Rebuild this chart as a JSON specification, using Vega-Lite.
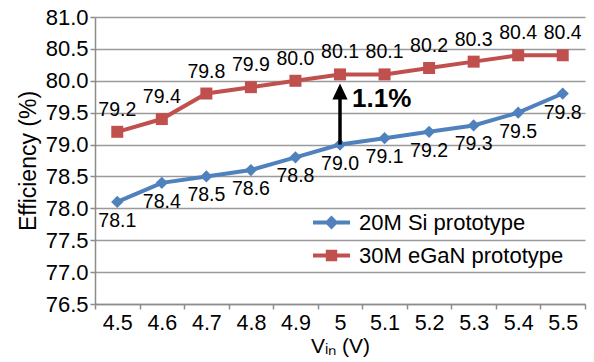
{
  "$schema": "https://vega.github.io/schema/vega-lite/v6.json",
  "width": 490,
  "height": 287,
  "autosize": "none",
  "padding": {"left": 95, "top": 17, "right": 9, "bottom": 58},
  "background": "white",
  "config": {
    "font": "Liberation Sans",
    "view": {"stroke": null},
    "axis": {"labelFont": "Liberation Sans", "titleFont": "Liberation Sans", "labelColor": "black", "titleColor": "black", "titleFontWeight": "normal"}
  },
  "datasets": {
    "eff": [
      {"vin": "4.5", "eff": 78.1, "series": "20M Si prototype"},
      {"vin": "4.6", "eff": 78.4, "series": "20M Si prototype"},
      {"vin": "4.7", "eff": 78.5, "series": "20M Si prototype"},
      {"vin": "4.8", "eff": 78.6, "series": "20M Si prototype"},
      {"vin": "4.9", "eff": 78.8, "series": "20M Si prototype"},
      {"vin": "5", "eff": 79.0, "series": "20M Si prototype"},
      {"vin": "5.1", "eff": 79.1, "series": "20M Si prototype"},
      {"vin": "5.2", "eff": 79.2, "series": "20M Si prototype"},
      {"vin": "5.3", "eff": 79.3, "series": "20M Si prototype"},
      {"vin": "5.4", "eff": 79.5, "series": "20M Si prototype"},
      {"vin": "5.5", "eff": 79.8, "series": "20M Si prototype"},
      {"vin": "4.5", "eff": 79.2, "series": "30M eGaN prototype"},
      {"vin": "4.6", "eff": 79.4, "series": "30M eGaN prototype"},
      {"vin": "4.7", "eff": 79.8, "series": "30M eGaN prototype"},
      {"vin": "4.8", "eff": 79.9, "series": "30M eGaN prototype"},
      {"vin": "4.9", "eff": 80.0, "series": "30M eGaN prototype"},
      {"vin": "5", "eff": 80.1, "series": "30M eGaN prototype"},
      {"vin": "5.1", "eff": 80.1, "series": "30M eGaN prototype"},
      {"vin": "5.2", "eff": 80.2, "series": "30M eGaN prototype"},
      {"vin": "5.3", "eff": 80.3, "series": "30M eGaN prototype"},
      {"vin": "5.4", "eff": 80.4, "series": "30M eGaN prototype"},
      {"vin": "5.5", "eff": 80.4, "series": "30M eGaN prototype"}
    ],
    "arrow": [
      {"vin": "5", "from": 79.0, "tip": 79.83, "label": "1.1%", "labelY": 79.72}
    ]
  },
  "data": {"name": "eff"},
  "encoding": {
    "x": {
      "field": "vin", "type": "ordinal", "sort": null,
      "scale": {"paddingInner": 0, "paddingOuter": 0},
      "axis": {
        "title": "Vᵢₙ (V)", "titleFontSize": 21, "titlePadding": 2,
        "labelAngle": 0, "labelFontSize": 21.5, "labelPadding": 3,
        "tickBand": "extent", "ticks": true, "tickSize": 5, "tickColor": "#8c8c8c", "tickWidth": 1.5,
        "domainColor": "#8c8c8c", "domainWidth": 1.5, "grid": false
      }
    },
    "y": {
      "field": "eff", "type": "quantitative",
      "scale": {"domain": [76.5, 81], "nice": false, "zero": false},
      "axis": {
        "title": "Efficiency (%)", "titleFontSize": 23, "titlePadding": 5,
        "values": [76.5, 77, 77.5, 78, 78.5, 79, 79.5, 80, 80.5, 81],
        "format": ".1f", "labelFontSize": 22, "labelPadding": 2,
        "tickSize": 5, "tickColor": "#8c8c8c", "tickWidth": 1.5,
        "domainColor": "#8c8c8c", "domainWidth": 1.5,
        "grid": true, "gridColor": "#9a9a9a", "gridWidth": 1.5
      }
    }
  },
  "layer": [
    {
      "transform": [{"filter": "datum.series == '20M Si prototype'"}],
      "mark": {"type": "line", "strokeWidth": 4, "color": "#4F81BD"}
    },
    {
      "transform": [{"filter": "datum.series == '30M eGaN prototype'"}],
      "mark": {"type": "line", "strokeWidth": 4, "color": "#C0504D"}
    },
    {
      "transform": [{"filter": "datum.series == '20M Si prototype'"}],
      "mark": {"type": "point", "shape": "diamond", "filled": true, "size": 150, "opacity": 1, "color": "#4F81BD"}
    },
    {
      "transform": [{"filter": "datum.series == '30M eGaN prototype'"}],
      "mark": {"type": "point", "shape": "square", "filled": true, "size": 144, "opacity": 1, "color": "#C0504D"}
    },
    {
      "transform": [{"filter": "datum.eff > 1000"}],
      "mark": {"type": "point", "filled": true, "opacity": 1, "strokeWidth": 4},
      "encoding": {
        "color": {"field": "series", "type": "nominal", "scale": {"domain": ["20M Si prototype", "30M eGaN prototype"], "range": ["#4F81BD", "#C0504D"]}},
        "stroke": {"field": "series", "type": "nominal", "scale": {"domain": ["20M Si prototype", "30M eGaN prototype"], "range": ["#4F81BD", "#C0504D"]}},
        "shape": {
          "field": "series", "type": "nominal",
          "scale": {"domain": ["20M Si prototype", "30M eGaN prototype"], "range": ["M-1,0H1M0,-0.22L0.22,0L0,0.22L-0.22,0Z", "M-1,0H1M-0.2,-0.2H0.2V0.2H-0.2Z"]},
          "legend": {
            "title": null, "orient": "none", "legendX": 216, "legendY": 185,
            "symbolSize": 1369, "symbolStrokeWidth": 4, "symbolOpacity": 1,
            "labelFont": "Liberation Sans", "labelFontSize": 22, "labelColor": "black",
            "labelOffset": 7, "labelLimit": 400, "rowPadding": 0
          }
        }
      }
    },
    {
      "transform": [{"filter": "datum.series == '20M Si prototype'"}],
      "mark": {"type": "text", "fontSize": 19.5, "dy": 19, "baseline": "middle", "color": "black"},
      "encoding": {"text": {"field": "eff", "type": "quantitative", "format": ".1f"}}
    },
    {
      "transform": [{"filter": "datum.series == '30M eGaN prototype'"}],
      "mark": {"type": "text", "fontSize": 19.5, "dy": -22, "baseline": "middle", "color": "black"},
      "encoding": {"text": {"field": "eff", "type": "quantitative", "format": ".1f"}}
    },
    {
      "data": {"name": "arrow"},
      "mark": {"type": "rule", "strokeWidth": 3.5, "color": "black"},
      "encoding": {"y": {"field": "from", "type": "quantitative"}, "y2": {"field": "tip"}}
    },
    {
      "data": {"name": "arrow"},
      "mark": {"type": "point", "shape": "M0,-1L0.95,1L-0.95,1Z", "filled": true, "size": 256, "color": "black", "opacity": 1},
      "encoding": {"y": {"field": "tip", "type": "quantitative"}}
    },
    {
      "data": {"name": "arrow"},
      "mark": {"type": "text", "fontSize": 26, "fontWeight": "bold", "align": "left", "baseline": "middle", "dx": 12, "color": "black"},
      "encoding": {"y": {"field": "labelY", "type": "quantitative"}, "text": {"field": "label"}}
    }
  ]
}
